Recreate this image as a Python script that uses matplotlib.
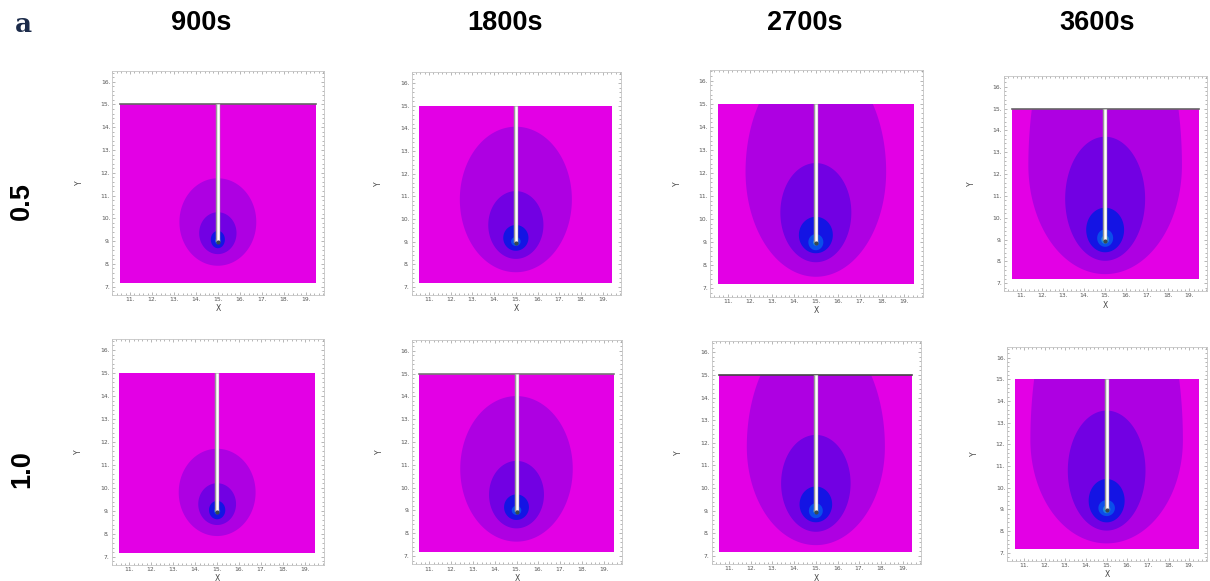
import matplotlib.pyplot as plt
import numpy as np
from matplotlib.patches import Rectangle, Polygon
from matplotlib.ticker import FixedLocator, MultipleLocator

# column / row headers
times = ['900s', '1800s', '2700s', '3600s']
ratios = ['0.5', '1.0']

# simulation domain and well
dom_x = (10.55, 19.45)
dom_y = (7.18, 15.0)
well_x = 15.0
well_top = 15.0
well_bottom = 8.95

# band colours, background first, then outer-to-inner contour bands
band_colors = ['#E300E5', '#AE00E2', '#7200E3', '#1414E4', '#0A4EEA', '#1E88DA']

# contour bands, outer to inner: (centre y, half width, lower half-height, upper half-height)
r05_900 = [(9.84, 1.75, 1.92, 1.92), (9.35, 0.85, 0.92, 0.92), (9.07, 0.32, 0.38, 0.38),
           (9.0, 0.13, 0.13, 0.13), (8.98, 0.06, 0.06, 0.06)]
r05_1800 = [(10.86, 2.58, 3.22, 3.22), (9.73, 1.27, 1.50, 1.50), (9.16, 0.58, 0.57, 0.57),
            (9.0, 0.22, 0.20, 0.20), (8.98, 0.08, 0.08, 0.08)]
r05_2700 = [(12.06, 3.19, 4.56, 5.0), (10.28, 1.61, 2.15, 2.15), (9.31, 0.77, 0.79, 0.79),
            (9.0, 0.34, 0.35, 0.35), (8.98, 0.13, 0.13, 0.13)]
r05_3600 = [(12.41, 3.65, 4.99, 8.6), (10.87, 1.90, 2.84, 2.84), (9.45, 0.90, 1.03, 1.01),
            (9.07, 0.38, 0.40, 0.40), (9.0, 0.19, 0.19, 0.19)]
r10_900 = [(9.80, 1.75, 1.90, 1.90), (9.29, 0.86, 0.91, 0.91), (9.03, 0.37, 0.40, 0.40),
           (8.98, 0.14, 0.14, 0.14), (8.97, 0.06, 0.06, 0.06)]
r10_1800 = [(10.82, 2.58, 3.19, 3.19), (9.69, 1.26, 1.48, 1.48), (9.14, 0.57, 0.56, 0.56),
            (9.0, 0.22, 0.20, 0.20), (8.98, 0.08, 0.08, 0.08)]
r10_2700 = [(11.83, 3.18, 4.35, 5.28), (10.21, 1.60, 2.14, 2.14), (9.28, 0.75, 0.79, 0.79),
            (9.0, 0.32, 0.33, 0.33), (8.98, 0.12, 0.12, 0.12)]
r10_3600 = [(12.2, 3.69, 4.77, 9.1), (10.79, 1.88, 2.77, 2.77), (9.40, 0.87, 1.00, 1.00),
            (9.06, 0.40, 0.37, 0.37), (9.0, 0.18, 0.18, 0.18)]
bands = [[r05_900, r05_1800, r05_2700, r05_3600],
         [r10_900, r10_1800, r10_2700, r10_3600]]

# line along the top boundary (None = not shown)
top_edge = [['#666666', None, None, '#666666'],
            [None, '#777777', '#444444', None]]

# pixel anchors of each panel: x=11, x=19, y=16, y=7
anchors = [[(130, 305.7, 81.7, 286.7), (429, 602.7, 83.3, 286.7),
            (727.7, 904, 80.7, 288.3), (1021, 1189.3, 86.7, 283.3)],
           [(129.3, 305, 350, 556.7), (429.3, 603.7, 350.7, 556),
            (729, 902.7, 352.3, 556), (1024, 1189.3, 357.7, 552.7)]]

title_x = [201, 505, 805, 1097]
row_y = [201, 469]

W, H = 1210, 581
fig = plt.figure(figsize=(W / 100, H / 100), dpi=100)

xlim = (10.2, 19.85)
ylim = (6.63, 16.48)


def egg(cy, a, bb, bt, n=240):
    t = np.linspace(0, 2 * np.pi, n)
    s = np.sin(t)
    x = well_x + a * np.cos(t)
    y = cy + np.where(s > 0, bt, bb) * s
    return np.column_stack([x, y])


for r in range(2):
    for c in range(4):
        x11, x19, y16, y7 = anchors[r][c]
        ppx = (x19 - x11) / 8
        ppy = (y7 - y16) / 9
        left = x11 - (11 - xlim[0]) * ppx
        right = x19 + (xlim[1] - 19) * ppx
        top = y16 - (ylim[1] - 16) * ppy
        bottom = y7 + (7 - ylim[0]) * ppy
        ax = fig.add_axes([left / W, 1 - bottom / H, (right - left) / W, (bottom - top) / H])
        ax.set_xlim(*xlim)
        ax.set_ylim(*ylim)

        domain = Rectangle((dom_x[0], dom_y[0]), dom_x[1] - dom_x[0], dom_y[1] - dom_y[0],
                           facecolor=band_colors[0], edgecolor='none', zorder=1)
        ax.add_patch(domain)
        for k, (cy, a, bb, bt) in enumerate(bands[r][c]):
            p = Polygon(egg(cy, a, bb, bt), closed=True, facecolor=band_colors[k + 1],
                        edgecolor='none', zorder=2 + k)
            ax.add_patch(p)
            p.set_clip_path(domain)

        if top_edge[r][c]:
            ax.plot(dom_x, [dom_y[1], dom_y[1]], color=top_edge[r][c], lw=1.2, zorder=10)

        # well
        ax.plot([well_x, well_x], [well_bottom, well_top], color='#9a9a9a', lw=3.2,
                solid_capstyle='butt', zorder=11)
        ax.plot([well_x, well_x], [well_bottom + 0.05, well_top], color='white', lw=1.8,
                solid_capstyle='butt', zorder=12)
        ax.plot([well_x], [well_bottom], marker='o', ms=2, color='#3a4a50', zorder=13)

        ax.xaxis.set_major_locator(FixedLocator(range(11, 20)))
        ax.yaxis.set_major_locator(FixedLocator(range(7, 17)))
        ax.set_xticklabels([f'{v}.' for v in range(11, 20)])
        ax.set_yticklabels([f'{v}.' for v in range(7, 17)])
        ax.xaxis.set_minor_locator(MultipleLocator(0.2))
        ax.yaxis.set_minor_locator(MultipleLocator(0.2))
        ax.tick_params(which='both', direction='in', top=True, right=True, color='#999999',
                       width=0.5, labelsize=4.3, labelcolor='#555555', pad=1.5)
        ax.tick_params(which='major', length=2.5)
        ax.tick_params(which='minor', length=1.2)
        for s in ax.spines.values():
            s.set_color('#c4c4c4')
            s.set_linewidth(0.6)
        ax.set_xlabel('X', fontsize=5.5, color='#444444', labelpad=1.5)
        ax.set_ylabel('Y', fontsize=5.5, color='#444444', labelpad=12)

for c, t in enumerate(times):
    fig.text(title_x[c] / W, 1 - 23 / H, t, ha='center', va='center',
             fontsize=19.5, fontweight='bold', family='Liberation Sans')
for r, t in enumerate(ratios):
    fig.text(22 / W, 1 - row_y[r] / H, t, ha='center', va='center', rotation=90,
             fontsize=19.5, fontweight='bold', family='Liberation Sans')
fig.text(23 / W, 1 - 24 / H, 'a', ha='center', va='center', fontsize=19,
         fontweight='bold', family='DejaVu Serif', color='#1c2b4a')

fig.savefig('out.png', dpi=100)
